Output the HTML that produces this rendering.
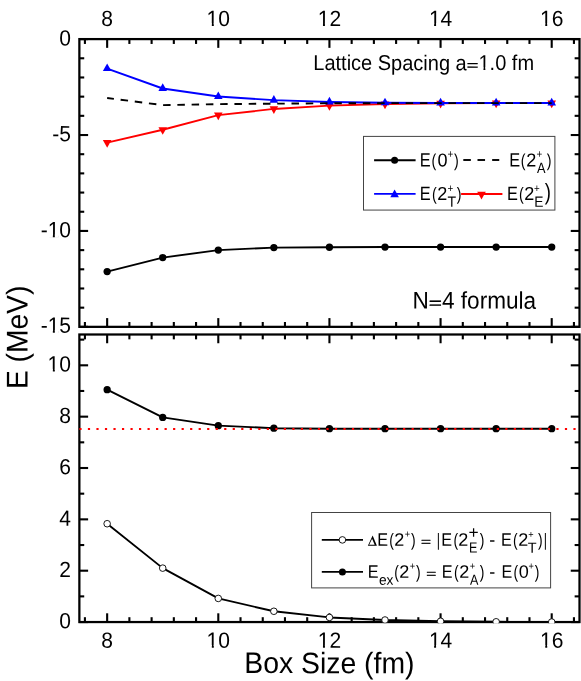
<!DOCTYPE html>
<html><head><meta charset="utf-8"><title>chart</title>
<style>
html,body{margin:0;padding:0;background:#fff;}
body{width:581px;height:681px;overflow:hidden;position:relative;font-family:"Liberation Sans",sans-serif;}
svg{will-change:transform;}
svg text{font-family:"Liberation Sans",sans-serif;text-rendering:geometricPrecision;}
</style></head><body>
<svg width="581" height="681" viewBox="0 0 581 681" style="display:block;position:absolute;left:0;top:0">
<rect x="0" y="0" width="581" height="681" fill="#fff"/>
<rect x="79.37" y="39.10" width="500.13" height="287.75" fill="none" stroke="#000" stroke-width="2.25"/>
<rect x="79.37" y="334.50" width="500.13" height="287.55" fill="none" stroke="#000" stroke-width="2.25"/>
<line x1="84.92" y1="39.10" x2="84.92" y2="43.95" stroke="#000" stroke-width="2.1"/>
<line x1="84.92" y1="326.85" x2="84.92" y2="322.00" stroke="#000" stroke-width="2.1"/>
<line x1="84.92" y1="334.50" x2="84.92" y2="339.35" stroke="#000" stroke-width="2.1"/>
<line x1="84.92" y1="622.05" x2="84.92" y2="617.20" stroke="#000" stroke-width="2.1"/>
<line x1="107.15" y1="39.10" x2="107.15" y2="47.85" stroke="#000" stroke-width="2.1"/>
<line x1="107.15" y1="326.85" x2="107.15" y2="318.10" stroke="#000" stroke-width="2.1"/>
<line x1="107.15" y1="334.50" x2="107.15" y2="343.25" stroke="#000" stroke-width="2.1"/>
<line x1="107.15" y1="622.05" x2="107.15" y2="613.30" stroke="#000" stroke-width="2.1"/>
<line x1="129.38" y1="39.10" x2="129.38" y2="43.95" stroke="#000" stroke-width="2.1"/>
<line x1="129.38" y1="326.85" x2="129.38" y2="322.00" stroke="#000" stroke-width="2.1"/>
<line x1="129.38" y1="334.50" x2="129.38" y2="339.35" stroke="#000" stroke-width="2.1"/>
<line x1="129.38" y1="622.05" x2="129.38" y2="617.20" stroke="#000" stroke-width="2.1"/>
<line x1="151.61" y1="39.10" x2="151.61" y2="43.95" stroke="#000" stroke-width="2.1"/>
<line x1="151.61" y1="326.85" x2="151.61" y2="322.00" stroke="#000" stroke-width="2.1"/>
<line x1="151.61" y1="334.50" x2="151.61" y2="339.35" stroke="#000" stroke-width="2.1"/>
<line x1="151.61" y1="622.05" x2="151.61" y2="617.20" stroke="#000" stroke-width="2.1"/>
<line x1="173.83" y1="39.10" x2="173.83" y2="43.95" stroke="#000" stroke-width="2.1"/>
<line x1="173.83" y1="326.85" x2="173.83" y2="322.00" stroke="#000" stroke-width="2.1"/>
<line x1="173.83" y1="334.50" x2="173.83" y2="339.35" stroke="#000" stroke-width="2.1"/>
<line x1="173.83" y1="622.05" x2="173.83" y2="617.20" stroke="#000" stroke-width="2.1"/>
<line x1="196.06" y1="39.10" x2="196.06" y2="43.95" stroke="#000" stroke-width="2.1"/>
<line x1="196.06" y1="326.85" x2="196.06" y2="322.00" stroke="#000" stroke-width="2.1"/>
<line x1="196.06" y1="334.50" x2="196.06" y2="339.35" stroke="#000" stroke-width="2.1"/>
<line x1="196.06" y1="622.05" x2="196.06" y2="617.20" stroke="#000" stroke-width="2.1"/>
<line x1="218.29" y1="39.10" x2="218.29" y2="47.85" stroke="#000" stroke-width="2.1"/>
<line x1="218.29" y1="326.85" x2="218.29" y2="318.10" stroke="#000" stroke-width="2.1"/>
<line x1="218.29" y1="334.50" x2="218.29" y2="343.25" stroke="#000" stroke-width="2.1"/>
<line x1="218.29" y1="622.05" x2="218.29" y2="613.30" stroke="#000" stroke-width="2.1"/>
<line x1="240.52" y1="39.10" x2="240.52" y2="43.95" stroke="#000" stroke-width="2.1"/>
<line x1="240.52" y1="326.85" x2="240.52" y2="322.00" stroke="#000" stroke-width="2.1"/>
<line x1="240.52" y1="334.50" x2="240.52" y2="339.35" stroke="#000" stroke-width="2.1"/>
<line x1="240.52" y1="622.05" x2="240.52" y2="617.20" stroke="#000" stroke-width="2.1"/>
<line x1="262.75" y1="39.10" x2="262.75" y2="43.95" stroke="#000" stroke-width="2.1"/>
<line x1="262.75" y1="326.85" x2="262.75" y2="322.00" stroke="#000" stroke-width="2.1"/>
<line x1="262.75" y1="334.50" x2="262.75" y2="339.35" stroke="#000" stroke-width="2.1"/>
<line x1="262.75" y1="622.05" x2="262.75" y2="617.20" stroke="#000" stroke-width="2.1"/>
<line x1="284.97" y1="39.10" x2="284.97" y2="43.95" stroke="#000" stroke-width="2.1"/>
<line x1="284.97" y1="326.85" x2="284.97" y2="322.00" stroke="#000" stroke-width="2.1"/>
<line x1="284.97" y1="334.50" x2="284.97" y2="339.35" stroke="#000" stroke-width="2.1"/>
<line x1="284.97" y1="622.05" x2="284.97" y2="617.20" stroke="#000" stroke-width="2.1"/>
<line x1="307.20" y1="39.10" x2="307.20" y2="43.95" stroke="#000" stroke-width="2.1"/>
<line x1="307.20" y1="326.85" x2="307.20" y2="322.00" stroke="#000" stroke-width="2.1"/>
<line x1="307.20" y1="334.50" x2="307.20" y2="339.35" stroke="#000" stroke-width="2.1"/>
<line x1="307.20" y1="622.05" x2="307.20" y2="617.20" stroke="#000" stroke-width="2.1"/>
<line x1="329.43" y1="39.10" x2="329.43" y2="47.85" stroke="#000" stroke-width="2.1"/>
<line x1="329.43" y1="326.85" x2="329.43" y2="318.10" stroke="#000" stroke-width="2.1"/>
<line x1="329.43" y1="334.50" x2="329.43" y2="343.25" stroke="#000" stroke-width="2.1"/>
<line x1="329.43" y1="622.05" x2="329.43" y2="613.30" stroke="#000" stroke-width="2.1"/>
<line x1="351.66" y1="39.10" x2="351.66" y2="43.95" stroke="#000" stroke-width="2.1"/>
<line x1="351.66" y1="326.85" x2="351.66" y2="322.00" stroke="#000" stroke-width="2.1"/>
<line x1="351.66" y1="334.50" x2="351.66" y2="339.35" stroke="#000" stroke-width="2.1"/>
<line x1="351.66" y1="622.05" x2="351.66" y2="617.20" stroke="#000" stroke-width="2.1"/>
<line x1="373.89" y1="39.10" x2="373.89" y2="43.95" stroke="#000" stroke-width="2.1"/>
<line x1="373.89" y1="326.85" x2="373.89" y2="322.00" stroke="#000" stroke-width="2.1"/>
<line x1="373.89" y1="334.50" x2="373.89" y2="339.35" stroke="#000" stroke-width="2.1"/>
<line x1="373.89" y1="622.05" x2="373.89" y2="617.20" stroke="#000" stroke-width="2.1"/>
<line x1="396.11" y1="39.10" x2="396.11" y2="43.95" stroke="#000" stroke-width="2.1"/>
<line x1="396.11" y1="326.85" x2="396.11" y2="322.00" stroke="#000" stroke-width="2.1"/>
<line x1="396.11" y1="334.50" x2="396.11" y2="339.35" stroke="#000" stroke-width="2.1"/>
<line x1="396.11" y1="622.05" x2="396.11" y2="617.20" stroke="#000" stroke-width="2.1"/>
<line x1="418.34" y1="39.10" x2="418.34" y2="43.95" stroke="#000" stroke-width="2.1"/>
<line x1="418.34" y1="326.85" x2="418.34" y2="322.00" stroke="#000" stroke-width="2.1"/>
<line x1="418.34" y1="334.50" x2="418.34" y2="339.35" stroke="#000" stroke-width="2.1"/>
<line x1="418.34" y1="622.05" x2="418.34" y2="617.20" stroke="#000" stroke-width="2.1"/>
<line x1="440.57" y1="39.10" x2="440.57" y2="47.85" stroke="#000" stroke-width="2.1"/>
<line x1="440.57" y1="326.85" x2="440.57" y2="318.10" stroke="#000" stroke-width="2.1"/>
<line x1="440.57" y1="334.50" x2="440.57" y2="343.25" stroke="#000" stroke-width="2.1"/>
<line x1="440.57" y1="622.05" x2="440.57" y2="613.30" stroke="#000" stroke-width="2.1"/>
<line x1="462.80" y1="39.10" x2="462.80" y2="43.95" stroke="#000" stroke-width="2.1"/>
<line x1="462.80" y1="326.85" x2="462.80" y2="322.00" stroke="#000" stroke-width="2.1"/>
<line x1="462.80" y1="334.50" x2="462.80" y2="339.35" stroke="#000" stroke-width="2.1"/>
<line x1="462.80" y1="622.05" x2="462.80" y2="617.20" stroke="#000" stroke-width="2.1"/>
<line x1="485.03" y1="39.10" x2="485.03" y2="43.95" stroke="#000" stroke-width="2.1"/>
<line x1="485.03" y1="326.85" x2="485.03" y2="322.00" stroke="#000" stroke-width="2.1"/>
<line x1="485.03" y1="334.50" x2="485.03" y2="339.35" stroke="#000" stroke-width="2.1"/>
<line x1="485.03" y1="622.05" x2="485.03" y2="617.20" stroke="#000" stroke-width="2.1"/>
<line x1="507.25" y1="39.10" x2="507.25" y2="43.95" stroke="#000" stroke-width="2.1"/>
<line x1="507.25" y1="326.85" x2="507.25" y2="322.00" stroke="#000" stroke-width="2.1"/>
<line x1="507.25" y1="334.50" x2="507.25" y2="339.35" stroke="#000" stroke-width="2.1"/>
<line x1="507.25" y1="622.05" x2="507.25" y2="617.20" stroke="#000" stroke-width="2.1"/>
<line x1="529.48" y1="39.10" x2="529.48" y2="43.95" stroke="#000" stroke-width="2.1"/>
<line x1="529.48" y1="326.85" x2="529.48" y2="322.00" stroke="#000" stroke-width="2.1"/>
<line x1="529.48" y1="334.50" x2="529.48" y2="339.35" stroke="#000" stroke-width="2.1"/>
<line x1="529.48" y1="622.05" x2="529.48" y2="617.20" stroke="#000" stroke-width="2.1"/>
<line x1="551.71" y1="39.10" x2="551.71" y2="47.85" stroke="#000" stroke-width="2.1"/>
<line x1="551.71" y1="326.85" x2="551.71" y2="318.10" stroke="#000" stroke-width="2.1"/>
<line x1="551.71" y1="334.50" x2="551.71" y2="343.25" stroke="#000" stroke-width="2.1"/>
<line x1="551.71" y1="622.05" x2="551.71" y2="613.30" stroke="#000" stroke-width="2.1"/>
<line x1="573.94" y1="39.10" x2="573.94" y2="43.95" stroke="#000" stroke-width="2.1"/>
<line x1="573.94" y1="326.85" x2="573.94" y2="322.00" stroke="#000" stroke-width="2.1"/>
<line x1="573.94" y1="334.50" x2="573.94" y2="339.35" stroke="#000" stroke-width="2.1"/>
<line x1="573.94" y1="622.05" x2="573.94" y2="617.20" stroke="#000" stroke-width="2.1"/>
<line x1="79.37" y1="39.10" x2="88.12" y2="39.10" stroke="#000" stroke-width="2.1"/>
<line x1="579.50" y1="39.10" x2="570.75" y2="39.10" stroke="#000" stroke-width="2.1"/>
<line x1="79.37" y1="58.28" x2="84.22" y2="58.28" stroke="#000" stroke-width="2.1"/>
<line x1="579.50" y1="58.28" x2="574.64" y2="58.28" stroke="#000" stroke-width="2.1"/>
<line x1="79.37" y1="77.47" x2="84.22" y2="77.47" stroke="#000" stroke-width="2.1"/>
<line x1="579.50" y1="77.47" x2="574.64" y2="77.47" stroke="#000" stroke-width="2.1"/>
<line x1="79.37" y1="96.65" x2="84.22" y2="96.65" stroke="#000" stroke-width="2.1"/>
<line x1="579.50" y1="96.65" x2="574.64" y2="96.65" stroke="#000" stroke-width="2.1"/>
<line x1="79.37" y1="115.83" x2="84.22" y2="115.83" stroke="#000" stroke-width="2.1"/>
<line x1="579.50" y1="115.83" x2="574.64" y2="115.83" stroke="#000" stroke-width="2.1"/>
<line x1="79.37" y1="135.02" x2="88.12" y2="135.02" stroke="#000" stroke-width="2.1"/>
<line x1="579.50" y1="135.02" x2="570.75" y2="135.02" stroke="#000" stroke-width="2.1"/>
<line x1="79.37" y1="154.20" x2="84.22" y2="154.20" stroke="#000" stroke-width="2.1"/>
<line x1="579.50" y1="154.20" x2="574.64" y2="154.20" stroke="#000" stroke-width="2.1"/>
<line x1="79.37" y1="173.38" x2="84.22" y2="173.38" stroke="#000" stroke-width="2.1"/>
<line x1="579.50" y1="173.38" x2="574.64" y2="173.38" stroke="#000" stroke-width="2.1"/>
<line x1="79.37" y1="192.57" x2="84.22" y2="192.57" stroke="#000" stroke-width="2.1"/>
<line x1="579.50" y1="192.57" x2="574.64" y2="192.57" stroke="#000" stroke-width="2.1"/>
<line x1="79.37" y1="211.75" x2="84.22" y2="211.75" stroke="#000" stroke-width="2.1"/>
<line x1="579.50" y1="211.75" x2="574.64" y2="211.75" stroke="#000" stroke-width="2.1"/>
<line x1="79.37" y1="230.93" x2="88.12" y2="230.93" stroke="#000" stroke-width="2.1"/>
<line x1="579.50" y1="230.93" x2="570.75" y2="230.93" stroke="#000" stroke-width="2.1"/>
<line x1="79.37" y1="250.12" x2="84.22" y2="250.12" stroke="#000" stroke-width="2.1"/>
<line x1="579.50" y1="250.12" x2="574.64" y2="250.12" stroke="#000" stroke-width="2.1"/>
<line x1="79.37" y1="269.30" x2="84.22" y2="269.30" stroke="#000" stroke-width="2.1"/>
<line x1="579.50" y1="269.30" x2="574.64" y2="269.30" stroke="#000" stroke-width="2.1"/>
<line x1="79.37" y1="288.48" x2="84.22" y2="288.48" stroke="#000" stroke-width="2.1"/>
<line x1="579.50" y1="288.48" x2="574.64" y2="288.48" stroke="#000" stroke-width="2.1"/>
<line x1="79.37" y1="307.67" x2="84.22" y2="307.67" stroke="#000" stroke-width="2.1"/>
<line x1="579.50" y1="307.67" x2="574.64" y2="307.67" stroke="#000" stroke-width="2.1"/>
<line x1="79.37" y1="326.85" x2="88.12" y2="326.85" stroke="#000" stroke-width="2.1"/>
<line x1="579.50" y1="326.85" x2="570.75" y2="326.85" stroke="#000" stroke-width="2.1"/>
<line x1="79.37" y1="622.05" x2="88.12" y2="622.05" stroke="#000" stroke-width="2.1"/>
<line x1="579.50" y1="622.05" x2="570.75" y2="622.05" stroke="#000" stroke-width="2.1"/>
<line x1="79.37" y1="596.38" x2="84.22" y2="596.38" stroke="#000" stroke-width="2.1"/>
<line x1="579.50" y1="596.38" x2="574.64" y2="596.38" stroke="#000" stroke-width="2.1"/>
<line x1="79.37" y1="570.70" x2="88.12" y2="570.70" stroke="#000" stroke-width="2.1"/>
<line x1="579.50" y1="570.70" x2="570.75" y2="570.70" stroke="#000" stroke-width="2.1"/>
<line x1="79.37" y1="545.03" x2="84.22" y2="545.03" stroke="#000" stroke-width="2.1"/>
<line x1="579.50" y1="545.03" x2="574.64" y2="545.03" stroke="#000" stroke-width="2.1"/>
<line x1="79.37" y1="519.35" x2="88.12" y2="519.35" stroke="#000" stroke-width="2.1"/>
<line x1="579.50" y1="519.35" x2="570.75" y2="519.35" stroke="#000" stroke-width="2.1"/>
<line x1="79.37" y1="493.68" x2="84.22" y2="493.68" stroke="#000" stroke-width="2.1"/>
<line x1="579.50" y1="493.68" x2="574.64" y2="493.68" stroke="#000" stroke-width="2.1"/>
<line x1="79.37" y1="468.01" x2="88.12" y2="468.01" stroke="#000" stroke-width="2.1"/>
<line x1="579.50" y1="468.01" x2="570.75" y2="468.01" stroke="#000" stroke-width="2.1"/>
<line x1="79.37" y1="442.33" x2="84.22" y2="442.33" stroke="#000" stroke-width="2.1"/>
<line x1="579.50" y1="442.33" x2="574.64" y2="442.33" stroke="#000" stroke-width="2.1"/>
<line x1="79.37" y1="416.66" x2="88.12" y2="416.66" stroke="#000" stroke-width="2.1"/>
<line x1="579.50" y1="416.66" x2="570.75" y2="416.66" stroke="#000" stroke-width="2.1"/>
<line x1="79.37" y1="390.98" x2="84.22" y2="390.98" stroke="#000" stroke-width="2.1"/>
<line x1="579.50" y1="390.98" x2="574.64" y2="390.98" stroke="#000" stroke-width="2.1"/>
<line x1="79.37" y1="365.31" x2="88.12" y2="365.31" stroke="#000" stroke-width="2.1"/>
<line x1="579.50" y1="365.31" x2="570.75" y2="365.31" stroke="#000" stroke-width="2.1"/>
<line x1="79.37" y1="339.63" x2="84.22" y2="339.63" stroke="#000" stroke-width="2.1"/>
<line x1="579.50" y1="339.63" x2="574.64" y2="339.63" stroke="#000" stroke-width="2.1"/>
<clipPath id="c1"><rect x="78.27" y="38.00" width="502.33" height="289.95"/></clipPath>
<clipPath id="c2"><rect x="78.27" y="333.40" width="502.33" height="289.75"/></clipPath>
<g clip-path="url(#c1)">
<polyline points="107.15,142.69 162.72,129.74 218.29,115.16 273.86,108.93 329.43,105.67 385.00,104.04 440.57,103.27 496.14,103.08 551.71,103.08" fill="none" stroke="#ff0000" stroke-width="1.9" stroke-linejoin="round" />
<polygon points="107.15,147.82 102.85,140.12 111.45,140.12" fill="#ff0000"/>
<polygon points="162.72,134.87 158.42,127.17 167.02,127.17" fill="#ff0000"/>
<polygon points="218.29,120.30 213.99,112.60 222.59,112.60" fill="#ff0000"/>
<polygon points="273.86,114.06 269.56,106.36 278.16,106.36" fill="#ff0000"/>
<polygon points="329.43,110.80 325.13,103.10 333.73,103.10" fill="#ff0000"/>
<polygon points="385.00,109.17 380.70,101.47 389.30,101.47" fill="#ff0000"/>
<polygon points="440.57,108.40 436.27,100.70 444.87,100.70" fill="#ff0000"/>
<polygon points="496.14,108.21 491.84,100.51 500.44,100.51" fill="#ff0000"/>
<polygon points="551.71,108.21 547.41,100.51 556.01,100.51" fill="#ff0000"/>
<polyline points="107.15,68.55 162.72,88.50 218.29,96.55 273.86,100.10 329.43,101.93 385.00,102.79 440.57,102.98 496.14,102.98 551.71,102.98" fill="none" stroke="#0000ff" stroke-width="1.9" stroke-linejoin="round" />
<polygon points="107.15,63.41 102.85,71.11 111.45,71.11" fill="#0000ff"/>
<polygon points="162.72,83.36 158.42,91.06 167.02,91.06" fill="#0000ff"/>
<polygon points="218.29,91.42 213.99,99.12 222.59,99.12" fill="#0000ff"/>
<polygon points="273.86,94.97 269.56,102.67 278.16,102.67" fill="#0000ff"/>
<polygon points="329.43,96.79 325.13,104.49 333.73,104.49" fill="#0000ff"/>
<polygon points="385.00,97.66 380.70,105.36 389.30,105.36" fill="#0000ff"/>
<polygon points="440.57,97.85 436.27,105.55 444.87,105.55" fill="#0000ff"/>
<polygon points="496.14,97.85 491.84,105.55 500.44,105.55" fill="#0000ff"/>
<polygon points="551.71,97.85 547.41,105.55 556.01,105.55" fill="#0000ff"/>
<polyline points="107.15,97.99 162.72,105.09 218.29,104.13 273.86,103.65 329.43,103.27 385.00,103.17 440.57,103.08 496.14,103.08 551.71,103.08" fill="none" stroke="#000" stroke-width="1.9" stroke-dasharray="7.5 6.77" stroke-dashoffset="0.7"/>
<polyline points="107.15,271.60 162.72,257.60 218.29,250.12 273.86,247.62 329.43,247.24 385.00,247.05 440.57,247.05 496.14,247.05 551.71,247.05" fill="none" stroke="#000" stroke-width="1.9" stroke-linejoin="round" />
<circle cx="107.15" cy="271.60" r="3.65" fill="#000"/>
<circle cx="162.72" cy="257.60" r="3.65" fill="#000"/>
<circle cx="218.29" cy="250.12" r="3.65" fill="#000"/>
<circle cx="273.86" cy="247.62" r="3.65" fill="#000"/>
<circle cx="329.43" cy="247.24" r="3.65" fill="#000"/>
<circle cx="385.00" cy="247.05" r="3.65" fill="#000"/>
<circle cx="440.57" cy="247.05" r="3.65" fill="#000"/>
<circle cx="496.14" cy="247.05" r="3.65" fill="#000"/>
<circle cx="551.71" cy="247.05" r="3.65" fill="#000"/>
</g>
<g clip-path="url(#c2)">
<polyline points="107.15,389.70 162.72,417.43 218.29,425.64 273.86,428.21 329.43,428.72 385.00,428.72 440.57,428.72 496.14,428.72 551.71,428.72" fill="none" stroke="#000" stroke-width="1.9" stroke-linejoin="round" />
<circle cx="107.15" cy="389.70" r="3.65" fill="#000"/>
<circle cx="162.72" cy="417.43" r="3.65" fill="#000"/>
<circle cx="218.29" cy="425.64" r="3.65" fill="#000"/>
<circle cx="273.86" cy="428.21" r="3.65" fill="#000"/>
<circle cx="329.43" cy="428.72" r="3.65" fill="#000"/>
<circle cx="385.00" cy="428.72" r="3.65" fill="#000"/>
<circle cx="440.57" cy="428.72" r="3.65" fill="#000"/>
<circle cx="496.14" cy="428.72" r="3.65" fill="#000"/>
<circle cx="551.71" cy="428.72" r="3.65" fill="#000"/>
<polyline points="107.15,523.72 162.72,568.13 218.29,598.43 273.86,611.27 329.43,617.43 385.00,620.00 440.57,621.28 496.14,621.79 551.71,622.05" fill="none" stroke="#000" stroke-width="1.9" stroke-linejoin="round" />
<circle cx="107.15" cy="523.72" r="3.3" fill="#fff" stroke="#000" stroke-width="0.9"/>
<circle cx="162.72" cy="568.13" r="3.3" fill="#fff" stroke="#000" stroke-width="0.9"/>
<circle cx="218.29" cy="598.43" r="3.3" fill="#fff" stroke="#000" stroke-width="0.9"/>
<circle cx="273.86" cy="611.27" r="3.3" fill="#fff" stroke="#000" stroke-width="0.9"/>
<circle cx="329.43" cy="617.43" r="3.3" fill="#fff" stroke="#000" stroke-width="0.9"/>
<circle cx="385.00" cy="620.00" r="3.3" fill="#fff" stroke="#000" stroke-width="0.9"/>
<circle cx="440.57" cy="621.28" r="3.3" fill="#fff" stroke="#000" stroke-width="0.9"/>
<circle cx="496.14" cy="621.79" r="3.3" fill="#fff" stroke="#000" stroke-width="0.9"/>
<circle cx="551.71" cy="622.05" r="3.3" fill="#fff" stroke="#000" stroke-width="0.9"/>
<line x1="79.37" y1="428.98" x2="579.50" y2="428.98" stroke="#ff0000" stroke-width="2" stroke-dasharray="2.2 6.318"/>
</g>
<g font-family="'Liberation Sans', sans-serif" fill="#000">
<text transform="translate(107.15,26.00) rotate(0.1) scale(0.955,1)" font-size="22" text-anchor="middle" >8</text>
<text transform="translate(107.15,647.75) rotate(0.1) scale(0.955,1)" font-size="22" text-anchor="middle" >8</text>
<text transform="translate(218.29,26.00) rotate(0.1) scale(0.955,1)" font-size="22" text-anchor="middle" >10</text>
<rect x="207.66" y="23.26" width="4.17" height="3.34" fill="#fff"/>
<rect x="213.80" y="23.26" width="3.99" height="3.34" fill="#fff"/>
<text transform="translate(218.29,647.75) rotate(0.1) scale(0.955,1)" font-size="22" text-anchor="middle" >10</text>
<rect x="207.66" y="645.01" width="4.17" height="3.34" fill="#fff"/>
<rect x="213.80" y="645.01" width="3.99" height="3.34" fill="#fff"/>
<text transform="translate(329.43,26.00) rotate(0.1) scale(0.955,1)" font-size="22" text-anchor="middle" >12</text>
<rect x="318.80" y="23.26" width="4.17" height="3.34" fill="#fff"/>
<rect x="324.94" y="23.26" width="3.99" height="3.34" fill="#fff"/>
<text transform="translate(329.43,647.75) rotate(0.1) scale(0.955,1)" font-size="22" text-anchor="middle" >12</text>
<rect x="318.80" y="645.01" width="4.17" height="3.34" fill="#fff"/>
<rect x="324.94" y="645.01" width="3.99" height="3.34" fill="#fff"/>
<text transform="translate(440.57,26.00) rotate(0.1) scale(0.955,1)" font-size="22" text-anchor="middle" >14</text>
<rect x="429.94" y="23.26" width="4.17" height="3.34" fill="#fff"/>
<rect x="436.08" y="23.26" width="3.99" height="3.34" fill="#fff"/>
<text transform="translate(440.57,647.75) rotate(0.1) scale(0.955,1)" font-size="22" text-anchor="middle" >14</text>
<rect x="429.94" y="645.01" width="4.17" height="3.34" fill="#fff"/>
<rect x="436.08" y="645.01" width="3.99" height="3.34" fill="#fff"/>
<text transform="translate(551.71,26.00) rotate(0.1) scale(0.955,1)" font-size="22" text-anchor="middle" >16</text>
<rect x="541.08" y="23.26" width="4.17" height="3.34" fill="#fff"/>
<rect x="547.22" y="23.26" width="3.99" height="3.34" fill="#fff"/>
<text transform="translate(551.71,647.75) rotate(0.1) scale(0.955,1)" font-size="22" text-anchor="middle" >16</text>
<rect x="541.08" y="645.01" width="4.17" height="3.34" fill="#fff"/>
<rect x="547.22" y="645.01" width="3.99" height="3.34" fill="#fff"/>
<text transform="translate(71.00,45.40) rotate(0.1) scale(0.955,1)" font-size="22" text-anchor="end" >0</text>
<text transform="translate(71.00,141.32) rotate(0.1) scale(0.955,1)" font-size="22" text-anchor="end" >-5</text>
<text transform="translate(71.00,237.23) rotate(0.1) scale(0.955,1)" font-size="22" text-anchor="end" >-10</text>
<rect x="48.68" y="234.50" width="4.17" height="3.34" fill="#fff"/>
<rect x="54.82" y="234.50" width="3.99" height="3.34" fill="#fff"/>
<text transform="translate(71.00,332.75) rotate(0.1) scale(0.955,1)" font-size="22" text-anchor="end" >-15</text>
<rect x="48.68" y="330.01" width="4.17" height="3.34" fill="#fff"/>
<rect x="54.82" y="330.01" width="3.99" height="3.34" fill="#fff"/>
<text transform="translate(71.00,628.35) rotate(0.1) scale(0.955,1)" font-size="22" text-anchor="end" >0</text>
<text transform="translate(71.00,577.00) rotate(0.1) scale(0.955,1)" font-size="22" text-anchor="end" >2</text>
<text transform="translate(71.00,525.65) rotate(0.1) scale(0.955,1)" font-size="22" text-anchor="end" >4</text>
<text transform="translate(71.00,474.31) rotate(0.1) scale(0.955,1)" font-size="22" text-anchor="end" >6</text>
<text transform="translate(71.00,422.96) rotate(0.1) scale(0.955,1)" font-size="22" text-anchor="end" >8</text>
<text transform="translate(71.00,371.61) rotate(0.1) scale(0.955,1)" font-size="22" text-anchor="end" >10</text>
<rect x="48.68" y="368.87" width="4.17" height="3.34" fill="#fff"/>
<rect x="54.82" y="368.87" width="3.99" height="3.34" fill="#fff"/>
<text transform="translate(313.30,70.00) rotate(0.1) scale(0.935,1)" font-size="21.4" text-anchor="start" >Lattice Spacing a</text>
<text transform="translate(466.81,70.00) rotate(0.1) scale(0.935,0.66)" font-size="21.4" text-anchor="start"  stroke="#000" stroke-width="0.5">=</text>
<text transform="translate(478.50,70.00) rotate(0.1) scale(0.935,1)" font-size="21.4" text-anchor="start" >1.0 fm</text>
<rect x="479.50" y="67.31" width="3.97" height="3.29" fill="#fff"/>
<rect x="485.35" y="67.31" width="3.80" height="3.29" fill="#fff"/>
<text transform="translate(412.55,308.50) rotate(0.1) scale(0.94,1)" font-size="24" text-anchor="start" >N</text>
<text transform="translate(428.84,308.50) rotate(0.1) scale(0.94,0.66)" font-size="24" text-anchor="start"  stroke="#000" stroke-width="0.5">=</text>
<text transform="translate(442.01,308.50) rotate(0.1) scale(0.94,1)" font-size="24" text-anchor="start" >4 formula</text>
<text transform="translate(329.40,673.20) rotate(0.1) scale(0.955,1)" font-size="29.7" text-anchor="middle" >Box Size (fm)</text>
<text transform="translate(27.5,337.4) rotate(-89.9) scale(0.94,1)" font-size="30" text-anchor="middle">E (MeV)</text>
</g>
<g font-family="'Liberation Sans', sans-serif" fill="#000">
<rect x="363.5" y="136.4" width="191.4" height="73.67" fill="#fff" stroke="#444" stroke-width="1"/>
<line x1="374.1" y1="160.2" x2="415.6" y2="160.2" stroke="#000" stroke-width="1.9"/>
<circle cx="394.60" cy="160.20" r="3.5" fill="#000"/>
<line x1="463.3" y1="160.0" x2="470.85" y2="160.0" stroke="#000" stroke-width="1.9"/>
<line x1="477.5" y1="160.0" x2="485.05" y2="160.0" stroke="#000" stroke-width="1.9"/>
<line x1="492.15" y1="160.0" x2="499.25" y2="160.0" stroke="#000" stroke-width="1.9"/>
<line x1="374.1" y1="193.9" x2="415.6" y2="193.9" stroke="#0000ff" stroke-width="1.9"/>
<polygon points="394.60,189.47 390.30,197.17 398.90,197.17" fill="#0000ff"/>
<line x1="461.1" y1="193.95" x2="502.4" y2="193.95" stroke="#ff0000" stroke-width="1.9"/>
<polygon points="481.50,199.43 477.20,191.73 485.80,191.73" fill="#ff0000"/>
<text transform="translate(419.81,166.55) rotate(0.1) scale(0.85,1)" font-size="19.2" text-anchor="start" >E</text>
<text transform="translate(431.58,166.55) rotate(0.1) scale(0.8,1)" font-size="17.8" text-anchor="start" >(</text>
<text transform="translate(437.47,166.55) rotate(0.1) scale(0.96,1)" font-size="18.8" text-anchor="start" >0</text>
<text transform="translate(447.52,157.85) rotate(0.1) scale(0.88,1)" font-size="11.2" text-anchor="start" >+</text>
<text transform="translate(453.98,166.55) rotate(0.1) scale(0.8,1)" font-size="17.8" text-anchor="start" >)</text>
<text transform="translate(509.21,166.55) rotate(0.1) scale(0.85,1)" font-size="19.2" text-anchor="start" >E</text>
<text transform="translate(520.83,166.55) rotate(0.1) scale(0.8,1)" font-size="17.8" text-anchor="start" >(</text>
<text transform="translate(526.24,166.55) rotate(0.1) scale(0.96,1)" font-size="18.8" text-anchor="start" >2</text>
<text transform="translate(536.47,157.85) rotate(0.1) scale(0.88,1)" font-size="11.2" text-anchor="start" >+</text>
<text transform="translate(537.03,173.00) rotate(0.1) scale(0.86,1)" font-size="14.8" text-anchor="start" >A</text>
<text transform="translate(546.78,166.55) rotate(0.1) scale(0.8,1)" font-size="17.8" text-anchor="start" >)</text>
<text transform="translate(419.68,199.90) rotate(0.1) scale(0.85,1)" font-size="19.2" text-anchor="start" >E</text>
<text transform="translate(432.03,199.90) rotate(0.1) scale(0.8,1)" font-size="17.8" text-anchor="start" >(</text>
<text transform="translate(437.37,199.90) rotate(0.1) scale(0.96,1)" font-size="18.8" text-anchor="start" >2</text>
<text transform="translate(447.62,191.98) rotate(0.1) scale(0.88,1)" font-size="11.2" text-anchor="start" >+</text>
<text transform="translate(447.51,206.70) rotate(0.1) scale(0.95,1)" font-size="14.8" text-anchor="start" >T</text>
<text transform="translate(456.83,199.90) rotate(0.1) scale(0.8,1)" font-size="17.8" text-anchor="start" >)</text>
<text transform="translate(507.01,199.90) rotate(0.1) scale(0.85,1)" font-size="19.2" text-anchor="start" >E</text>
<text transform="translate(518.93,199.90) rotate(0.1) scale(0.8,1)" font-size="17.8" text-anchor="start" >(</text>
<text transform="translate(524.34,199.90) rotate(0.1) scale(0.96,1)" font-size="18.8" text-anchor="start" >2</text>
<text transform="translate(534.09,191.98) rotate(0.1) scale(0.88,1)" font-size="11.2" text-anchor="start" >+</text>
<text transform="translate(534.18,206.70) rotate(0.1) scale(0.93,1)" font-size="14.8" text-anchor="start" >E</text>
<text transform="translate(544.73,199.80) rotate(0.1) scale(0.8,1)" font-size="23.2" text-anchor="start" >)</text>
<rect x="311.6" y="512.5" width="239.0" height="75.4" fill="#fff" stroke="#444" stroke-width="1"/>
<line x1="321.8" y1="539.9" x2="363.0" y2="539.9" stroke="#000" stroke-width="1.9"/>
<circle cx="342.40" cy="539.90" r="3.3" fill="#fff" stroke="#000" stroke-width="0.9"/>
<line x1="321.8" y1="571.9" x2="363.0" y2="571.9" stroke="#000" stroke-width="1.9"/>
<circle cx="342.40" cy="571.90" r="3.5" fill="#000"/>
<path d="M367.85,545.65 L372.65,535.6 L376.9,545.65 Z M369.17,544.75 L374.67,544.75 L372.09,538.63 Z" fill="#000" fill-rule="evenodd"/>
<text transform="translate(377.32,545.70) rotate(0.1) scale(0.89,1)" font-size="18.2" text-anchor="start" >E</text>
<text transform="translate(389.30,546.00) rotate(0.1) scale(0.78,1)" font-size="17.8" text-anchor="start" >(</text>
<text transform="translate(394.21,545.70) rotate(0.1) scale(1.0,1)" font-size="18.05" text-anchor="start" >2</text>
<text transform="translate(404.69,537.59) rotate(0.1) scale(0.88,1)" font-size="10.4" text-anchor="start" >+</text>
<text transform="translate(410.98,546.00) rotate(0.1) scale(0.78,1)" font-size="17.8" text-anchor="start" >)</text>
<text transform="translate(420.99,545.70) rotate(0.1) scale(0.95,0.66)" font-size="18.0" text-anchor="start"  stroke="#000" stroke-width="0.5">=</text>
<text transform="translate(436.66,546.00) rotate(0.1) scale(0.7,1)" font-size="17.8" text-anchor="start" >|</text>
<text transform="translate(441.32,545.70) rotate(0.1) scale(0.89,1)" font-size="18.2" text-anchor="start" >E</text>
<text transform="translate(453.50,546.00) rotate(0.1) scale(0.78,1)" font-size="17.8" text-anchor="start" >(</text>
<text transform="translate(458.27,545.70) rotate(0.1) scale(1.0,1)" font-size="18.05" text-anchor="start" >2</text>
<text transform="translate(468.41,538.13) rotate(0.1) scale(1.0,1)" font-size="17.4" text-anchor="start" >+</text>
<text transform="translate(469.10,552.50) rotate(0.1) scale(0.86,1)" font-size="14.6" text-anchor="start" >E</text>
<text transform="translate(479.83,546.00) rotate(0.1) scale(0.78,1)" font-size="17.8" text-anchor="start" >)</text>
<text transform="translate(489.30,545.70) rotate(0.1) scale(1.0,1)" font-size="18.0" text-anchor="start" >-</text>
<text transform="translate(500.92,545.70) rotate(0.1) scale(0.89,1)" font-size="18.2" text-anchor="start" >E</text>
<text transform="translate(513.00,546.00) rotate(0.1) scale(0.78,1)" font-size="17.8" text-anchor="start" >(</text>
<text transform="translate(518.27,545.70) rotate(0.1) scale(1.0,1)" font-size="18.05" text-anchor="start" >2</text>
<text transform="translate(528.22,537.65) rotate(0.1) scale(0.9,1)" font-size="10.2" text-anchor="start" >+</text>
<text transform="translate(527.63,552.70) rotate(0.1) scale(0.99,1)" font-size="14.6" text-anchor="start" >T</text>
<text transform="translate(538.02,546.00) rotate(0.1) scale(0.78,1)" font-size="17.8" text-anchor="start" >)</text>
<text transform="translate(543.74,546.00) rotate(0.1) scale(0.7,1)" font-size="17.8" text-anchor="start" >|</text>
<text transform="translate(367.81,577.75) rotate(0.1) scale(0.89,1)" font-size="18.2" text-anchor="start" >E</text>
<text transform="translate(378.89,584.75) rotate(0.1) scale(0.965,1)" font-size="14.2" text-anchor="start" >ex</text>
<text transform="translate(394.30,578.05) rotate(0.1) scale(0.78,1)" font-size="17.8" text-anchor="start" >(</text>
<text transform="translate(399.21,577.75) rotate(0.1) scale(1.0,1)" font-size="18.05" text-anchor="start" >2</text>
<text transform="translate(409.69,569.59) rotate(0.1) scale(0.88,1)" font-size="10.4" text-anchor="start" >+</text>
<text transform="translate(415.98,578.05) rotate(0.1) scale(0.78,1)" font-size="17.8" text-anchor="start" >)</text>
<text transform="translate(426.22,577.75) rotate(0.1) scale(0.95,0.66)" font-size="18.0" text-anchor="start"  stroke="#000" stroke-width="0.5">=</text>
<text transform="translate(441.72,577.75) rotate(0.1) scale(0.89,1)" font-size="18.2" text-anchor="start" >E</text>
<text transform="translate(453.88,578.05) rotate(0.1) scale(0.78,1)" font-size="17.8" text-anchor="start" >(</text>
<text transform="translate(459.14,577.75) rotate(0.1) scale(1.0,1)" font-size="18.05" text-anchor="start" >2</text>
<text transform="translate(469.73,569.59) rotate(0.1) scale(0.88,1)" font-size="10.4" text-anchor="start" >+</text>
<text transform="translate(469.88,584.75) rotate(0.1) scale(0.86,1)" font-size="14.6" text-anchor="start" >A</text>
<text transform="translate(479.83,578.05) rotate(0.1) scale(0.78,1)" font-size="17.8" text-anchor="start" >)</text>
<text transform="translate(489.25,577.75) rotate(0.1) scale(1.0,1)" font-size="18.0" text-anchor="start" >-</text>
<text transform="translate(501.42,577.75) rotate(0.1) scale(0.89,1)" font-size="18.2" text-anchor="start" >E</text>
<text transform="translate(513.48,578.05) rotate(0.1) scale(0.78,1)" font-size="17.8" text-anchor="start" >(</text>
<text transform="translate(518.74,577.75) rotate(0.1) scale(1.0,1)" font-size="18.05" text-anchor="start" >0</text>
<text transform="translate(528.43,569.59) rotate(0.1) scale(0.88,1)" font-size="10.4" text-anchor="start" >+</text>
<text transform="translate(534.83,578.05) rotate(0.1) scale(0.78,1)" font-size="17.8" text-anchor="start" >)</text>
</g>
</svg>
</body></html>
